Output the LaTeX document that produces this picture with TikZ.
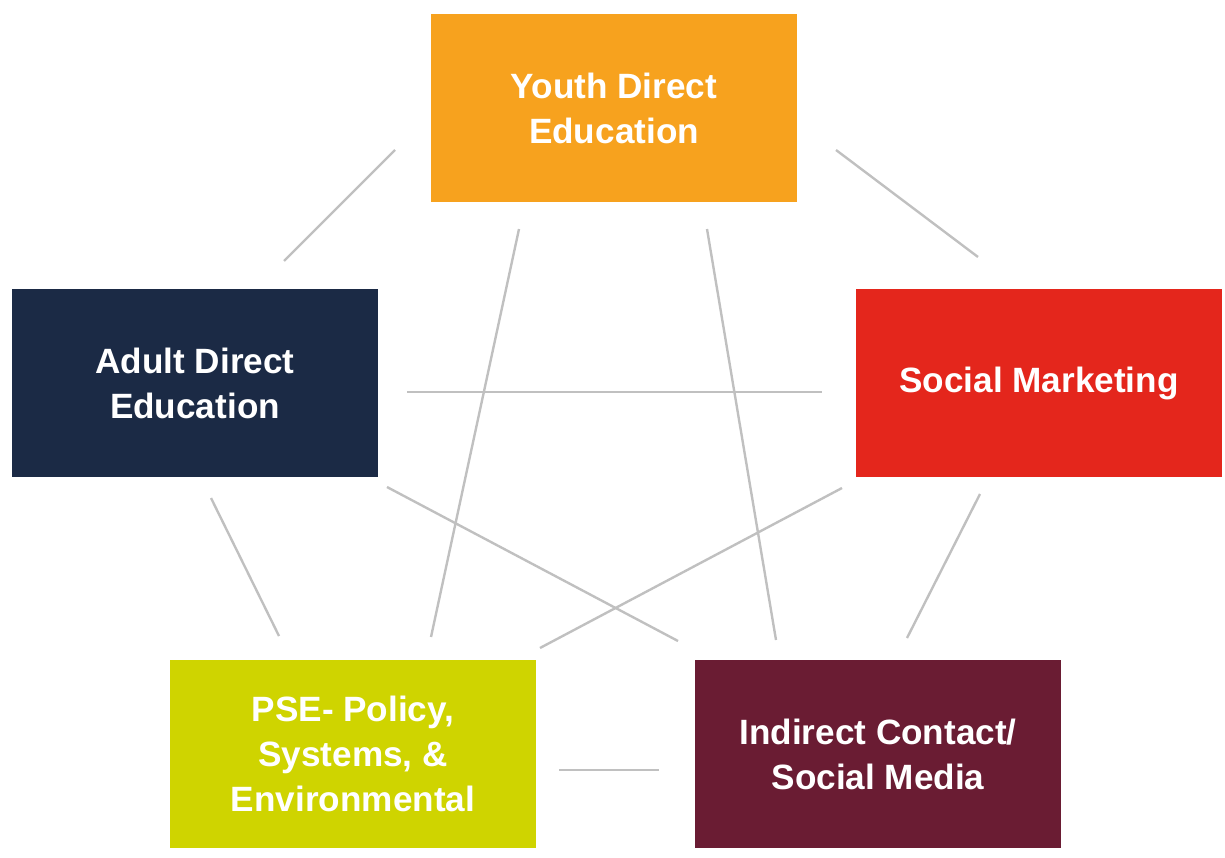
\documentclass[tikz,border=0pt]{standalone}
\usepackage{fontspec}
\setmainfont{Liberation Sans}
\usepackage{xcolor}
\definecolor{youthC}{HTML}{F7A21E}
\definecolor{adultC}{HTML}{1B2A45}
\definecolor{socialC}{HTML}{E4261C}
\definecolor{pseC}{HTML}{CFD400}
\definecolor{indirectC}{HTML}{6A1C33}
\definecolor{linkC}{HTML}{C0C0C0}
\tikzset{
	box/.style={rectangle, minimum width=91.5mm, minimum height=47mm, inner sep=0pt,
		text=white, align=center, font=\bfseries\fontsize{25}{32}\selectfont},
	link/.style={draw=linkC, line width=1.7pt}
}

\begin{document}
\begin{tikzpicture}[x=0.25mm, y=-0.25mm]
	\useasboundingbox (0,0) rectangle (1225,857);

	\node [box, fill=youthC] (youth) at (614,108) {Youth Direct\\Education};
	\node [box, fill=adultC] (adult) at (195,383) {Adult Direct\\Education};
	\node [box, fill=socialC] (social) at (1039,383) {Social Marketing};
	\node [box, fill=pseC] (pse) at (353,754) {PSE- Policy,\\Systems, \&\\Environmental};
	\node [box, fill=indirectC] (indirect) at (878,754) {Indirect Contact/\\Social Media};

	% youth links
	\coordinate (YA0) at (395,150);
	\coordinate (YA1) at (284,261);
	\draw [link] (YA0) -- (YA1);
	\coordinate (YS0) at (836,150);
	\coordinate (YS1) at (978,257);
	\draw [link] (YS0) -- (YS1);
	\coordinate (YP0) at (519,229);
	\coordinate (YP1) at (431,637);
	\draw [link] (YP0) -- (YP1);
	\coordinate (YI0) at (707,229);
	\coordinate (YI1) at (776,640);
	\draw [link] (YI0) -- (YI1);

	% adult links
	\coordinate (AS0) at (407,392);
	\coordinate (AS1) at (822,392);
	\draw [link] (AS0) -- (AS1);
	\coordinate (AP0) at (211,498);
	\coordinate (AP1) at (279,636);
	\draw [link] (AP0) -- (AP1);
	\coordinate (AI0) at (387,487);
	\coordinate (AI1) at (678,641);
	\draw [link] (AI0) -- (AI1);

	% social links
	\coordinate (SP0) at (842,488);
	\coordinate (SP1) at (540,648);
	\draw [link] (SP0) -- (SP1);
	\coordinate (SI0) at (980,494);
	\coordinate (SI1) at (907,638);
	\draw [link] (SI0) -- (SI1);

	% bottom link
	\coordinate (PI0) at (559,770);
	\coordinate (PI1) at (659,770);
	\draw [link] (PI0) -- (PI1);
\end{tikzpicture}
\end{document}
